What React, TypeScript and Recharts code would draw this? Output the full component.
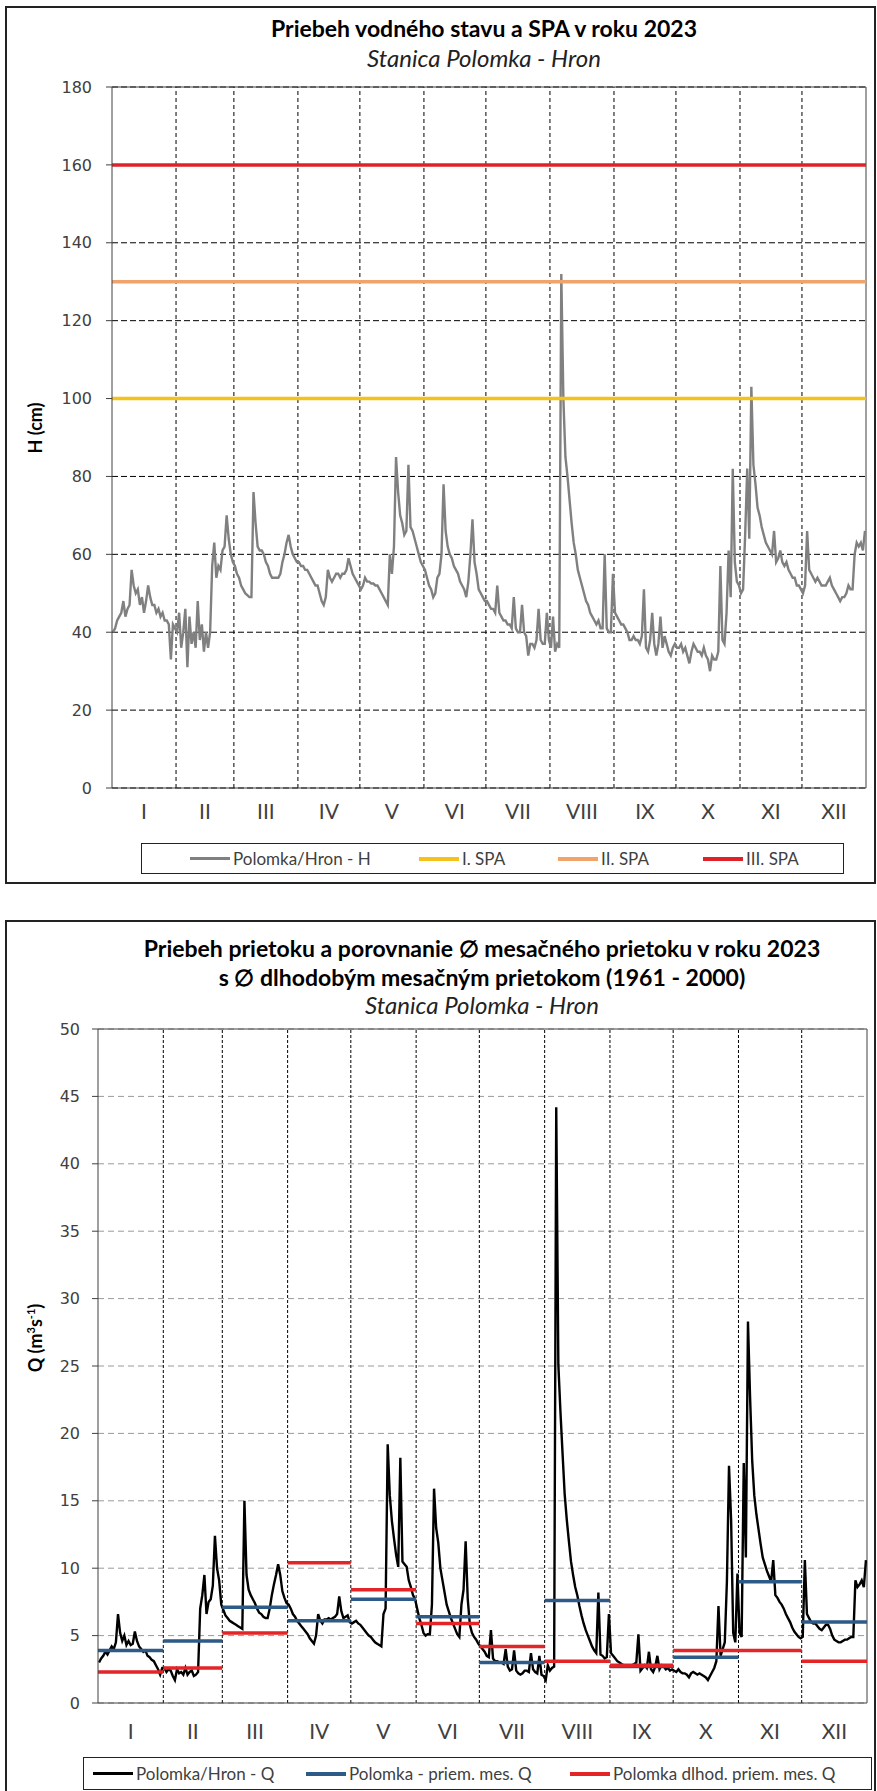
import { LineChart, Line, XAxis, YAxis, CartesianGrid, ReferenceLine } from 'recharts'

const MONTH_LABELS = ['I', 'II', 'III', 'IV', 'V', 'VI', 'VII', 'VIII', 'IX', 'X', 'XI', 'XII']
const MONTH_STARTS = [0, 31, 59, 90, 120, 151, 181, 212, 243, 273, 304, 334, 365]

// daily water level H (cm), 2023
const LEVEL_H = [
  40, 41, 43, 44, 45, 48, 44, 46, 47, 56, 52, 50, 51, 47, 49, 45, 48, 52, 49, 47, 47, 45, 46, 44, 45, 43, 43, 42, 33, 42, 41,
  40, 45, 36, 40, 46, 31, 44, 37, 40, 36, 48, 38, 42, 35, 40, 36, 40, 57, 63, 54, 57, 56, 61, 62, 70, 64, 60, 58,
  57, 55, 54, 52, 51, 50, 49.5, 49, 49, 76, 68, 62, 61, 61, 60, 58, 57, 55, 54, 54, 54, 54, 55, 58, 60, 63, 65, 62, 60, 59, 58,
  58, 57, 57, 56, 56, 55, 54, 53, 52, 52, 50, 48, 47, 49, 56, 54, 53, 54, 55, 55, 54, 55, 55, 56, 59, 57, 55, 54, 53, 52,
  51, 52, 54, 53, 53, 52.5, 52.5, 52, 52, 51, 50, 49, 48, 47, 60, 55, 62, 85, 76, 70, 68, 65, 66, 83, 67, 66, 64, 62, 60, 58, 57,
  56, 54, 52, 51, 49, 50, 54, 55, 60, 78, 66, 62, 60, 59, 57, 56, 55, 53, 52, 51, 49, 53, 60, 69, 58, 55, 51, 50, 49, 48,
  48, 47, 46, 46, 45, 52, 45, 44, 43, 43, 42, 42, 41, 49, 41, 40, 40, 47, 40, 39, 34, 37, 37, 36, 38, 46, 38, 37, 37, 45, 38,
  36, 44, 35, 37, 36, 132, 100, 85, 80, 74, 68, 63, 60, 56, 54, 52, 50, 48, 47, 45, 44, 43, 42, 43, 41, 41, 60, 41, 40, 40, 55,
  45, 44, 43, 42, 42, 41, 40, 38, 38, 39, 38, 38, 37, 39, 51, 36, 35, 38, 45, 37, 34, 37, 44, 36, 39, 37, 35, 34, 36, 37,
  36, 36, 37, 35, 36, 34, 32, 35, 37, 36, 35, 35, 34, 36, 34, 33, 30, 34, 33, 33, 35, 57, 38, 37, 45, 61, 49, 82, 58, 53, 52,
  50, 51, 65, 82, 64, 103, 83, 78, 72, 70, 67, 65, 63, 62, 61, 60, 66, 58, 59, 61, 58, 57, 58, 56, 55, 54, 54, 52, 52, 51,
  50, 52, 66, 56, 55, 54, 53, 54, 53, 52, 52, 52, 53, 54, 52, 51, 50, 49, 48, 49, 49, 50, 52, 51, 51, 60, 63, 62, 63, 61, 66,
]

// daily discharge Q (m3/s), 2023
const FLOW_Q = [
  3.0, 3.3, 3.5, 3.8, 3.6, 3.9, 4.2, 4.0, 4.5, 6.6, 5.2, 4.6, 5.0, 4.3, 4.6, 4.3, 4.4, 5.3, 4.6, 4.2, 4.0, 3.8, 3.9, 3.5, 3.4, 3.2, 3.1, 2.8, 2.5, 2.1, 2.6,
  2.6, 2.3, 2.5, 2.4, 2.0, 1.7, 2.5, 2.2, 2.3, 2.1, 2.6, 2.1, 2.3, 2.4, 2.0, 2.1, 2.3, 7.0, 8.0, 9.5, 6.6, 7.5, 7.7, 8.7, 12.4, 10.0, 9.1, 7.3,
  6.9, 6.5, 6.3, 6.1, 6.0, 5.9, 5.8, 5.7, 5.6, 5.5, 15.0, 9.5, 8.4, 8.0, 7.7, 7.4, 7.0, 6.7, 6.6, 6.4, 6.3, 6.3, 7.0, 8.0, 8.8, 9.5, 10.3, 9.5, 8.3, 7.8, 7.4,
  7.3, 7.0, 6.6, 6.4, 6.1, 5.9, 5.7, 5.5, 5.3, 5.1, 4.8, 4.6, 4.4, 5.0, 6.6, 6.1, 5.9, 6.2, 6.2, 6.3, 6.2, 6.3, 6.4, 6.6, 7.9, 6.8, 6.3, 6.4, 6.5, 6.0,
  5.9, 6.0, 6.1, 5.9, 5.8, 5.6, 5.4, 5.2, 5.0, 4.9, 4.7, 4.5, 4.4, 4.3, 4.2, 6.6, 7.0, 19.2, 15.4, 13.5, 12.2, 11.0, 10.1, 18.2, 10.5, 10.3, 10.1, 9.1, 8.6, 8.0, 7.7,
  7.0, 6.3, 5.8, 5.2, 5.0, 5.1, 5.1, 7.3, 15.9, 13.0, 11.9, 10.0, 9.1, 8.2, 7.3, 6.8, 6.3, 5.9, 5.5, 5.1, 4.9, 7.3, 8.4, 12.0, 7.7, 5.8, 5.2, 4.9, 4.7, 4.4,
  4.2, 4.0, 3.8, 3.5, 3.4, 5.4, 3.3, 3.1, 3.1, 3.0, 3.0, 2.9, 4.0, 2.7, 2.4, 2.5, 3.9, 2.4, 2.2, 2.1, 2.2, 2.4, 2.4, 2.3, 3.7, 2.5, 2.3, 2.2, 3.5, 2.1, 2.0,
  1.7, 2.8, 2.4, 2.6, 2.7, 44.2, 25.1, 21.6, 18.5, 15.5, 13.6, 12.0, 10.5, 9.5, 8.6, 8.0, 7.2, 6.5, 5.9, 5.4, 5.0, 4.6, 4.2, 3.9, 3.7, 8.2, 3.6, 3.5, 3.3, 3.4, 6.6,
  3.7, 3.5, 3.3, 3.1, 3.0, 2.9, 2.8, 2.8, 2.8, 2.7, 2.8, 2.9, 3.0, 5.1, 2.4, 2.6, 2.8, 2.6, 3.8, 2.5, 2.3, 2.7, 3.5, 2.5, 2.8, 2.7, 2.5, 2.6, 2.4, 2.5,
  2.4, 2.3, 2.5, 2.3, 2.2, 2.2, 2.1, 1.9, 2.2, 2.3, 2.2, 2.1, 2.2, 2.1, 2.0, 1.9, 1.7, 2.0, 2.3, 2.6, 3.1, 7.2, 3.5, 4.0, 4.5, 9.0, 17.6, 13.6, 5.2, 4.5, 9.6,
  5.2, 4.9, 17.8, 10.8, 28.3, 22.7, 18.0, 15.4, 14.0, 12.9, 11.8, 10.8, 10.3, 9.8, 9.4, 9.0, 10.6, 8.0, 7.8, 7.5, 7.3, 7.0, 6.6, 6.3, 6.0, 5.6, 5.3, 5.1, 4.9, 4.8,
  4.9, 10.6, 6.6, 6.3, 6.0, 5.9, 5.9, 5.7, 5.5, 5.4, 5.6, 5.8, 5.8, 5.5, 5.0, 4.7, 4.6, 4.5, 4.5, 4.6, 4.7, 4.7, 4.8, 4.9, 4.9, 9.1, 8.6, 8.8, 9.1, 8.6, 10.6,
]

const MONTHLY_Q_2023 = [3.9, 4.6, 7.1, 6.1, 7.7, 6.4, 3.0, 7.6, 2.7, 3.4, 9.0, 6.0]
const MONTHLY_Q_LONGTERM = [2.3, 2.6, 5.2, 10.4, 8.4, 5.9, 4.2, 3.1, 2.8, 3.9, 3.9, 3.1]

const SPA_NAMES = ['I. SPA', 'II. SPA', 'III. SPA']
const SPA_LEVELS = [100, 130, 160]
const SPA_COLORS = ['#f5c21b', '#f0a46c', '#de2228']

const H_TICKS = [0, 20, 40, 60, 80, 100, 120, 140, 160, 180]
const Q_TICKS = [0, 5, 10, 15, 20, 25, 30, 35, 40, 45, 50]

const LATO = 'Lato, "Noto Sans", sans-serif'
const TICK_FONT = '"DejaVu Sans", Verdana, sans-serif'

const MONTH_MIDS = MONTH_STARTS.slice(0, 12).map((s, i) => (s + MONTH_STARTS[i + 1]) / 2)
const DIVIDERS = MONTH_STARTS.slice(1, 12)

const levelData = LEVEL_H.map((h, i) => ({ day: i + 0.5, h }))
const flowData = FLOW_Q.map((q, i) => ({ day: i + 0.5, q }))
const spaData = SPA_LEVELS.map(v => [{ day: 0, v }, { day: 365, v }])

function monthSteps(vals: number[]) {
  return vals.flatMap((v, m) => [
    { day: MONTH_STARTS[m], v },
    { day: MONTH_STARTS[m + 1], v },
    { day: MONTH_STARTS[m + 1], v: null as number | null },
  ])
}

const monthLabel = (v: number) => MONTH_LABELS[MONTH_MIDS.indexOf(v)] ?? ''

function MonthTick(props: any) {
  const { x, y, payload, offset } = props
  return (
    <text x={x} y={y + offset} textAnchor="middle" dominantBaseline="central"
      style={{ fontFamily: LATO, fontSize: 21, fill: '#404040' }}>
      {monthLabel(payload.value)}
    </text>
  )
}

function LegendItem({ left, color, width, label }: { left: number; color: string; width: number; label: string }) {
  return (
    <div style={{ position: 'absolute', left, top: 0, height: '100%', display: 'flex', alignItems: 'center' }}>
      <div style={{ width: 40, height: width, background: color }} />
      <span style={{ marginLeft: 3, fontFamily: LATO, fontSize: 17, color: '#404040' }}>{label}</span>
    </div>
  )
}

const centered: React.CSSProperties = {
  position: 'absolute', transform: 'translate(-50%, -50%)', whiteSpace: 'nowrap', fontFamily: LATO, color: '#000',
}
const rotated: React.CSSProperties = { ...centered, fontSize: 18, fontWeight: 700, transform: 'translate(-50%, -50%) rotate(-90deg)' }

export default function App() {
  return (
    <div style={{ position: 'absolute', left: 0, top: 0, width: 877, height: 1791, background: '#fff', overflow: 'hidden' }}>
      {/* ---------- water level ---------- */}
      <div style={{ position: 'absolute', left: 5, top: 6, width: 871, height: 878, border: '2px solid #222', boxSizing: 'border-box' }} />
      <div style={{ ...centered, left: 484, top: 28, fontSize: 23, fontWeight: 700 }}>Priebeh vodného stavu a SPA v roku 2023</div>
      <div style={{ ...centered, left: 484, top: 57, fontSize: 24, fontStyle: 'italic', color: '#222' }}>Stanica Polomka - Hron</div>
      <div style={{ ...rotated, left: 35, top: 428 }}>H (cm)</div>

      <div style={{ position: 'absolute', left: 0, top: 0 }}>
        <LineChart width={877} height={830} margin={{ top: 87, right: 11, left: 0, bottom: 12 }}>
          <CartesianGrid vertical={false} stroke="#000" strokeDasharray="6 3" />
          <XAxis dataKey="day" type="number" domain={[0, 365]} ticks={MONTH_MIDS} interval={0} height={30}
            tickLine={false} tickSize={0} tickMargin={0} axisLine={{ stroke: '#404040' }}
            tick={<MonthTick offset={22} />} allowDataOverflow />
          <YAxis type="number" domain={[0, 180]} ticks={H_TICKS} width={112} tickSize={6} tickMargin={14}
            axisLine={{ stroke: '#404040' }} tickLine={{ stroke: '#404040' }}
            tick={{ fontFamily: TICK_FONT, fontSize: 16, fill: '#404040' }} />
          {DIVIDERS.map(d => <ReferenceLine key={d} x={d} stroke="#000" strokeDasharray="4 3" />)}
          <ReferenceLine y={180} stroke="#404040" />
          <ReferenceLine x={365} stroke="#404040" />
          <Line data={levelData} dataKey="h" type="linear" stroke="#808080" strokeWidth={2.4} dot={false} isAnimationActive={false} />
          {spaData.map((d, i) => (
            <Line key={SPA_NAMES[i]} data={d} dataKey="v" stroke={SPA_COLORS[i]} strokeWidth={3.5} dot={false} isAnimationActive={false} />
          ))}
        </LineChart>
      </div>

      <div style={{ position: 'absolute', left: 141, top: 843, width: 703, height: 31, border: '1.5px solid #222', boxSizing: 'border-box' }}>
        <LegendItem left={48} color="#808080" width={2.5} label="Polomka/Hron - H" />
        <LegendItem left={277} color={SPA_COLORS[0]} width={4} label={SPA_NAMES[0]} />
        <LegendItem left={416} color={SPA_COLORS[1]} width={4} label={SPA_NAMES[1]} />
        <LegendItem left={561} color={SPA_COLORS[2]} width={4} label={SPA_NAMES[2]} />
      </div>

      {/* ---------- discharge ---------- */}
      <div style={{ position: 'absolute', left: 5, top: 920, width: 871, height: 900, border: '2px solid #222', boxSizing: 'border-box' }} />
      <div style={{ ...centered, left: 482, top: 948, fontSize: 23, fontWeight: 700 }}>Priebeh prietoku a porovnanie ∅ mesačného prietoku v roku 2023</div>
      <div style={{ ...centered, left: 482, top: 977, fontSize: 23, fontWeight: 700 }}>s ∅ dlhodobým mesačným prietokom (1961 - 2000)</div>
      <div style={{ ...centered, left: 482, top: 1004, fontSize: 24, fontStyle: 'italic', color: '#222' }}>Stanica Polomka - Hron</div>
      <div style={{ ...rotated, left: 35, top: 1338 }}>
        Q (m<sup style={{ fontSize: 11 }}>3</sup>s<sup style={{ fontSize: 11 }}>-1</sup>)
      </div>

      <div style={{ position: 'absolute', left: 0, top: 900 }}>
        <LineChart width={877} height={850} margin={{ top: 129, right: 10, left: 0, bottom: 17 }}>
          <CartesianGrid vertical={false} stroke="#9a9a9a" strokeDasharray="6 4" />
          <XAxis dataKey="day" type="number" domain={[0, 365]} ticks={MONTH_MIDS} interval={0} height={30}
            tickLine={false} tickSize={0} tickMargin={0} axisLine={{ stroke: '#404040' }}
            tick={<MonthTick offset={27} />} allowDataOverflow />
          <YAxis type="number" domain={[0, 50]} ticks={Q_TICKS} width={98} tickSize={6} tickMargin={12}
            axisLine={{ stroke: '#404040' }} tickLine={{ stroke: '#404040' }}
            tick={{ fontFamily: TICK_FONT, fontSize: 16, fill: '#404040' }} />
          {DIVIDERS.map(d => <ReferenceLine key={d} x={d} stroke="#000" strokeDasharray="3 2" />)}
          <ReferenceLine y={50} stroke="#404040" />
          <ReferenceLine x={365} stroke="#404040" />
          <Line data={flowData} dataKey="q" type="linear" stroke="#000" strokeWidth={2.4} dot={false} isAnimationActive={false} />
          <Line data={monthSteps(MONTHLY_Q_2023)} dataKey="v" stroke="#2e5a87" strokeWidth={3.5} dot={false} connectNulls={false} isAnimationActive={false} />
          <Line data={monthSteps(MONTHLY_Q_LONGTERM)} dataKey="v" stroke="#e42528" strokeWidth={3.5} dot={false} connectNulls={false} isAnimationActive={false} />
        </LineChart>
      </div>

      <div style={{ position: 'absolute', left: 83, top: 1757, width: 789, height: 33, border: '1.5px solid #222', boxSizing: 'border-box' }}>
        <LegendItem left={9} color="#000" width={2.5} label="Polomka/Hron - Q" />
        <LegendItem left={222} color="#2e5a87" width={4} label="Polomka - priem. mes. Q" />
        <LegendItem left={486} color="#e42528" width={4} label="Polomka dlhod. priem. mes. Q" />
      </div>
    </div>
  )
}
